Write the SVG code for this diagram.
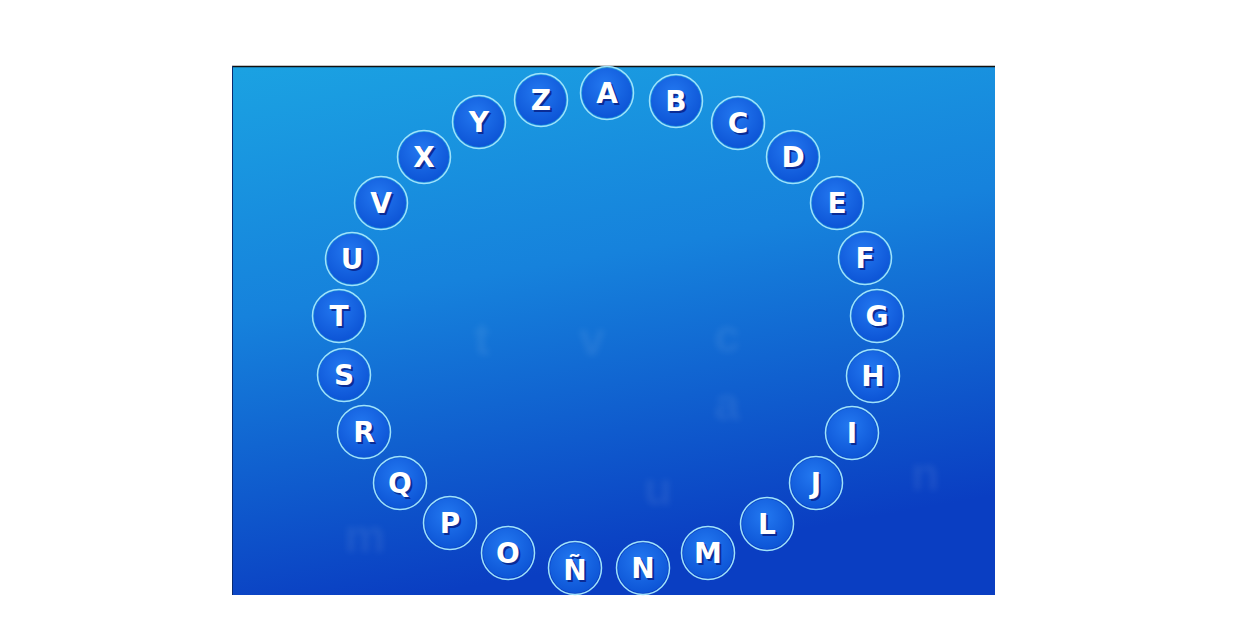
<svg xmlns="http://www.w3.org/2000/svg" width="1248" height="624" viewBox="0 0 1248 624">
  <defs>
    <linearGradient id="bg" x1="0" y1="0" x2="0.25" y2="1">
      <stop offset="0" stop-color="#1ba2e2"/>
      <stop offset="0.45" stop-color="#1682dc"/>
      <stop offset="1" stop-color="#0a3ec2"/>
    </linearGradient>
    <radialGradient id="ball" cx="0.45" cy="0.35" r="0.7">
      <stop offset="0" stop-color="#2378f0"/>
      <stop offset="1" stop-color="#0b52d4"/>
    </radialGradient>
    <filter id="blur" x="-50%" y="-50%" width="200%" height="200%">
      <feGaussianBlur stdDeviation="3"/>
    </filter>
    <style>
      .ring { fill: none; stroke: #9fe2fb; stroke-width: 1.5; }
      .ball { fill: url(#ball); }
      .lt { font-family: "DejaVu Sans", "Liberation Sans", sans-serif; font-weight: bold; font-size: 28px; text-anchor: middle; }
      .sh { fill: #0a2c96; }
      .fg { fill: #ffffff; }
      .ghost { font-family: "Liberation Sans", sans-serif; font-weight: bold; font-size: 46px; fill: #ffffff; opacity: 0.07; filter: url(#blur); text-anchor: middle; }
    </style>
  </defs>
  <rect x="0" y="0" width="1248" height="624" fill="#ffffff"/>
  <rect x="232" y="66" width="763" height="529" fill="url(#bg)"/>
  <line x1="232" y1="66.5" x2="995" y2="66.5" stroke="#111" stroke-width="1.5"/>
  <line x1="232.5" y1="66" x2="232.5" y2="595" stroke="#0a2a70" stroke-width="1"/>
  <g id="background-letters">
    <text class="ghost" x="482" y="355">t</text>
    <text class="ghost" x="592" y="355">v</text>
    <text class="ghost" x="727" y="352">c</text>
    <text class="ghost" x="727" y="420">a</text>
    <text class="ghost" x="365" y="552">m</text>
    <text class="ghost" x="658" y="505">u</text>
    <text class="ghost" x="925" y="490">n</text>
  </g>
  <g id="A"><circle class="ball" cx="607" cy="93" r="25"/><circle class="ring" cx="607" cy="93" r="26.5"/><text class="lt sh" x="609" y="105">A</text><text class="lt fg" x="607" y="103">A</text></g>
  <g id="B"><circle class="ball" cx="676" cy="101" r="25"/><circle class="ring" cx="676" cy="101" r="26.5"/><text class="lt sh" x="678" y="113">B</text><text class="lt fg" x="676" y="111">B</text></g>
  <g id="C"><circle class="ball" cx="738" cy="123" r="25"/><circle class="ring" cx="738" cy="123" r="26.5"/><text class="lt sh" x="740" y="135">C</text><text class="lt fg" x="738" y="133">C</text></g>
  <g id="D"><circle class="ball" cx="793" cy="157" r="25"/><circle class="ring" cx="793" cy="157" r="26.5"/><text class="lt sh" x="795" y="169">D</text><text class="lt fg" x="793" y="167">D</text></g>
  <g id="E"><circle class="ball" cx="837" cy="203" r="25"/><circle class="ring" cx="837" cy="203" r="26.5"/><text class="lt sh" x="839" y="215">E</text><text class="lt fg" x="837" y="213">E</text></g>
  <g id="F"><circle class="ball" cx="865" cy="258" r="25"/><circle class="ring" cx="865" cy="258" r="26.5"/><text class="lt sh" x="867" y="270">F</text><text class="lt fg" x="865" y="268">F</text></g>
  <g id="G"><circle class="ball" cx="877" cy="316" r="25"/><circle class="ring" cx="877" cy="316" r="26.5"/><text class="lt sh" x="879" y="328">G</text><text class="lt fg" x="877" y="326">G</text></g>
  <g id="H"><circle class="ball" cx="873" cy="376" r="25"/><circle class="ring" cx="873" cy="376" r="26.5"/><text class="lt sh" x="875" y="388">H</text><text class="lt fg" x="873" y="386">H</text></g>
  <g id="I"><circle class="ball" cx="852" cy="433" r="25"/><circle class="ring" cx="852" cy="433" r="26.5"/><text class="lt sh" x="854" y="445">I</text><text class="lt fg" x="852" y="443">I</text></g>
  <g id="J"><circle class="ball" cx="816" cy="483" r="25"/><circle class="ring" cx="816" cy="483" r="26.5"/><text class="lt sh" x="818" y="495">J</text><text class="lt fg" x="816" y="493">J</text></g>
  <g id="L"><circle class="ball" cx="767" cy="524" r="25"/><circle class="ring" cx="767" cy="524" r="26.5"/><text class="lt sh" x="769" y="536">L</text><text class="lt fg" x="767" y="534">L</text></g>
  <g id="M"><circle class="ball" cx="708" cy="553" r="25"/><circle class="ring" cx="708" cy="553" r="26.5"/><text class="lt sh" x="710" y="565">M</text><text class="lt fg" x="708" y="563">M</text></g>
  <g id="N"><circle class="ball" cx="643" cy="568" r="25"/><circle class="ring" cx="643" cy="568" r="26.5"/><text class="lt sh" x="645" y="580">N</text><text class="lt fg" x="643" y="578">N</text></g>
  <g id="N-tilde"><circle class="ball" cx="575" cy="568" r="25"/><circle class="ring" cx="575" cy="568" r="26.5"/><text class="lt sh" x="577" y="582">Ñ</text><text class="lt fg" x="575" y="580">Ñ</text></g>
  <g id="O"><circle class="ball" cx="508" cy="553" r="25"/><circle class="ring" cx="508" cy="553" r="26.5"/><text class="lt sh" x="510" y="565">O</text><text class="lt fg" x="508" y="563">O</text></g>
  <g id="P"><circle class="ball" cx="450" cy="523" r="25"/><circle class="ring" cx="450" cy="523" r="26.5"/><text class="lt sh" x="452" y="535">P</text><text class="lt fg" x="450" y="533">P</text></g>
  <g id="Q"><circle class="ball" cx="400" cy="483" r="25"/><circle class="ring" cx="400" cy="483" r="26.5"/><text class="lt sh" x="402" y="495">Q</text><text class="lt fg" x="400" y="493">Q</text></g>
  <g id="R"><circle class="ball" cx="364" cy="432" r="25"/><circle class="ring" cx="364" cy="432" r="26.5"/><text class="lt sh" x="366" y="444">R</text><text class="lt fg" x="364" y="442">R</text></g>
  <g id="S"><circle class="ball" cx="344" cy="375" r="25"/><circle class="ring" cx="344" cy="375" r="26.5"/><text class="lt sh" x="346" y="387">S</text><text class="lt fg" x="344" y="385">S</text></g>
  <g id="T"><circle class="ball" cx="339" cy="316" r="25"/><circle class="ring" cx="339" cy="316" r="26.5"/><text class="lt sh" x="341" y="328">T</text><text class="lt fg" x="339" y="326">T</text></g>
  <g id="U"><circle class="ball" cx="352" cy="259" r="25"/><circle class="ring" cx="352" cy="259" r="26.5"/><text class="lt sh" x="354" y="271">U</text><text class="lt fg" x="352" y="269">U</text></g>
  <g id="V"><circle class="ball" cx="381" cy="203" r="25"/><circle class="ring" cx="381" cy="203" r="26.5"/><text class="lt sh" x="383" y="215">V</text><text class="lt fg" x="381" y="213">V</text></g>
  <g id="X"><circle class="ball" cx="424" cy="157" r="25"/><circle class="ring" cx="424" cy="157" r="26.5"/><text class="lt sh" x="426" y="169">X</text><text class="lt fg" x="424" y="167">X</text></g>
  <g id="Y"><circle class="ball" cx="479" cy="122" r="25"/><circle class="ring" cx="479" cy="122" r="26.5"/><text class="lt sh" x="481" y="134">Y</text><text class="lt fg" x="479" y="132">Y</text></g>
  <g id="Z"><circle class="ball" cx="541" cy="100" r="25"/><circle class="ring" cx="541" cy="100" r="26.5"/><text class="lt sh" x="543" y="112">Z</text><text class="lt fg" x="541" y="110">Z</text></g>
</svg>
